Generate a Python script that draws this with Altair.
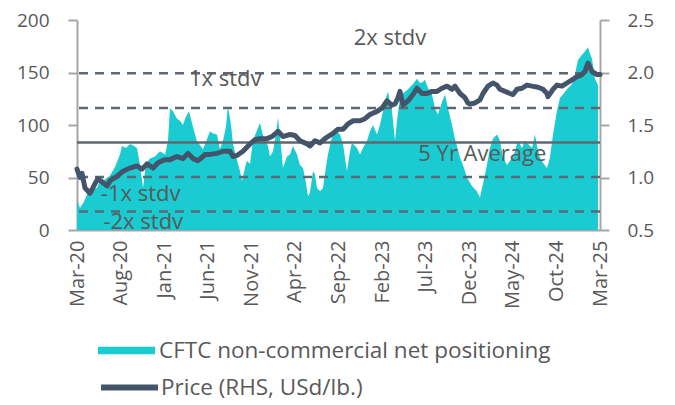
import json
import altair as alt
import pandas as pd

FONT = "Open Sans"
TXT = "#595959"
AXC = "#A6A6A6"

# x-axis tick labels (every 5 months, Mar-20 .. Mar-25)
x_labels = ["Mar-20", "Aug-20", "Jan-21", "Jun-21", "Nov-21", "Apr-22", "Sep-22",
            "Feb-23", "Jul-23", "Dec-23", "May-24", "Oct-24", "Mar-25"]
tick_months = [0, 5, 10, 15, 20, 25, 30, 35, 40, 45, 50, 55, 60]

# CFTC non-commercial net positioning (months since Mar-20, value)
cftc_month = [0.00, 0.34, 0.80, 1.15, 1.72, 2.29, 2.64, 3.21, 3.79, 4.36, 4.93, 5.16, 5.62,
              6.08, 6.54, 6.88, 7.23, 7.57, 7.92, 8.37, 8.95, 9.52, 10.10, 10.44, 10.67,
              11.01, 11.47, 11.82, 12.16, 12.50, 12.85, 13.31, 13.77, 14.11, 14.45, 14.80,
              15.26, 15.60, 16.06, 16.40, 16.75, 17.09, 17.32, 17.67, 17.90, 18.24, 18.70,
              18.93, 19.27, 19.50, 19.85, 20.19, 20.65, 20.99, 21.34, 21.57, 21.91, 22.14,
              22.49, 22.83, 23.06, 23.40, 23.63, 24.09, 24.43, 24.78, 25.24, 25.58, 25.93,
              26.27, 26.50, 26.73, 27.07, 27.30, 27.53, 27.88, 28.22, 28.56, 28.79, 29.14,
              29.37, 29.83, 30.17, 30.52, 30.97, 31.32, 31.55, 31.89, 32.12, 32.47, 32.81,
              33.27, 33.61, 33.96, 34.42, 34.76, 35.10, 35.45, 35.68, 35.91, 36.14, 36.48,
              36.71, 37.05, 37.40, 37.97, 38.55, 39.00, 39.35, 39.69, 39.92, 40.27, 40.73,
              41.07, 41.41, 41.87, 42.22, 42.56, 43.02, 43.36, 43.94, 44.28, 44.74, 45.31,
              45.88, 46.23, 46.58, 47.03, 47.38, 47.72, 48.18, 48.52, 48.87, 49.33, 49.67,
              50.02, 50.59, 51.05, 51.39, 51.74, 52.20, 52.54, 52.77, 53.11, 53.46, 53.92,
              54.26, 54.61, 55.06, 55.41, 55.75, 56.21, 56.79, 57.13, 57.47, 57.93, 58.28,
              58.62, 58.85, 59.08, 59.42, 59.77]
cftc_value = [28, 21, 27, 34, 38, 40, 47, 48, 52, 60, 72, 80, 78,
              82, 80, 78, 62, 40, 63, 68, 70, 75, 72, 85, 116,
              113, 106, 104, 100, 108, 113, 98, 84, 81, 77, 84,
              94, 92, 91, 77, 85, 98, 118, 100, 82, 70, 56,
              47, 59, 66, 63, 85, 95, 102, 90, 87, 80, 70,
              75, 92, 107, 80, 59, 70, 72, 80, 72, 62, 59,
              45, 32, 36, 56, 53, 40, 37, 40, 60, 72, 85,
              91, 94, 91, 82, 56, 75, 83, 80, 78, 72, 78,
              85, 94, 100, 91, 100, 113, 126, 132, 120, 113, 85,
              104, 126, 130, 134, 139, 144, 140, 141, 143, 135, 129,
              116, 110, 122, 129, 116, 100, 87, 69, 62, 50, 42,
              37, 31, 44, 62, 78, 87, 91, 85, 69, 62, 66,
              69, 85, 78, 85, 82, 78, 91, 80, 69, 64, 59,
              69, 91, 113, 126, 129, 134, 139, 148, 162, 167, 170,
              174, 168, 163, 144, 138]

# Price (RHS, USd/lb.)
price_month = [0.00, 0.34, 0.57, 0.92, 1.49, 2.06, 2.41, 2.98, 3.44, 3.79, 4.59, 5.28, 6.08,
               6.88, 7.46, 8.03, 8.72, 9.29, 10.10, 10.67, 11.47, 12.16, 12.73, 13.31, 13.88,
               14.45, 14.68, 15.26, 16.06, 16.75, 17.55, 17.90, 18.35, 19.04, 19.85, 20.42,
               20.99, 21.80, 22.37, 23.06, 23.63, 24.43, 25.01, 25.58, 26.39, 26.73, 27.30,
               27.88, 28.45, 28.79, 29.37, 29.94, 30.52, 31.09, 31.66, 32.47, 33.04, 33.61,
               34.42, 34.99, 35.56, 36.14, 36.48, 36.82, 37.05, 37.40, 37.97, 38.55, 39.00,
               39.58, 40.15, 40.73, 41.30, 41.87, 42.45, 43.02, 43.36, 43.94, 44.51, 44.85,
               45.08, 45.66, 46.23, 46.58, 47.15, 47.72, 48.18, 48.52, 49.10, 49.67, 50.02,
               50.48, 51.05, 51.62, 52.20, 52.89, 53.46, 53.92, 54.03, 54.61, 55.06, 55.64,
               56.21, 56.79, 57.36, 57.93, 58.28, 58.62, 59.08, 59.66, 60.00]
price_value = [1.08, 1.00, 1.04, 0.90, 0.85, 0.94, 0.99, 0.95, 0.92, 0.97, 1.01, 1.06, 1.09,
               1.11, 1.08, 1.13, 1.09, 1.14, 1.17, 1.17, 1.20, 1.18, 1.23, 1.18, 1.16,
               1.20, 1.22, 1.22, 1.23, 1.25, 1.25, 1.20, 1.21, 1.25, 1.32, 1.36,
               1.37, 1.37, 1.39, 1.44, 1.39, 1.41, 1.40, 1.35, 1.32, 1.30, 1.35,
               1.33, 1.37, 1.39, 1.42, 1.46, 1.46, 1.51, 1.54, 1.54, 1.56, 1.60,
               1.63, 1.66, 1.73, 1.69, 1.70, 1.76, 1.82, 1.69, 1.73, 1.79, 1.85,
               1.80, 1.80, 1.82, 1.82, 1.85, 1.87, 1.84, 1.87, 1.80, 1.76, 1.71,
               1.70, 1.71, 1.74, 1.80, 1.87, 1.90, 1.88, 1.84, 1.82, 1.80, 1.79,
               1.84, 1.85, 1.88, 1.87, 1.86, 1.84, 1.80, 1.77, 1.84, 1.88, 1.87,
               1.90, 1.93, 1.96, 1.98, 2.01, 2.09, 2.01, 1.98, 1.98]

# reference levels (LHS units)
stdv_levels = [149.3, 116.3, 50.5, 17.6]
average_level = [83.4]

# annotation texts and their anchor (months, LHS value)
annot_text = ["2x stdv", "1x stdv", "5 Yr Average", "-1x stdv", "-2x stdv"]
annot_month = [35.9, 17.0, 46.5, 7.3, 7.6]
annot_value = [182.5, 144.0, 72.0, 34.0, 7.2]

AREA_NAME = "CFTC non-commercial net positioning"
LINE_NAME = "Price (RHS, USd/lb.)"

cftc_df = pd.DataFrame({"month": cftc_month, "value": cftc_value, "series": AREA_NAME})
price_df = pd.DataFrame({"month": price_month, "price": price_value, "series": LINE_NAME})
stdv_df = pd.DataFrame({"level": stdv_levels})
avg_df = pd.DataFrame({"level": average_level})
annot_df = pd.DataFrame({"month": annot_month, "value": annot_value, "text": annot_text})

label_expr = json.dumps(x_labels) + "[round(datum.value / 5)]"

x_enc = alt.X(
    "month:Q",
    scale=alt.Scale(domain=[0, 60], nice=False, zero=False),
    axis=alt.Axis(values=tick_months, labelExpr=label_expr, labelAngle=-90,
                  labelAlign="right", labelBaseline="middle", ticks=False,
                  labelPadding=10, labelFontSize=20, labelColor=TXT, labelFont=FONT,
                  domainColor=AXC, domainWidth=2, grid=False, title=None),
)
left_scale = alt.Scale(domain=[0, 200], nice=False)
left_axis = alt.Axis(values=[0, 50, 100, 150, 200], grid=False, title=None,
                     tickSize=9, tickColor=AXC, tickWidth=2, domainColor=AXC, domainWidth=2,
                     labelPadding=19, labelFontSize=19, labelColor=TXT, labelFont=FONT)

area = alt.Chart(cftc_df).mark_area(color="#1ACBD1", opacity=1, interpolate="linear").encode(
    x=x_enc,
    y=alt.Y("value:Q", scale=left_scale, axis=left_axis),
    fill=alt.Fill("series:N", scale=alt.Scale(domain=[AREA_NAME], range=["#1ACBD1"]),
                  legend=alt.Legend(title=None, orient="none", legendX=21, legendY=302,
                                    symbolType="M-1,-0.13H1V0.13H-1Z", symbolSize=3249,
                                    symbolStrokeWidth=0, symbolOpacity=1, labelLimit=0,
                                    labelFontSize=22.5, labelColor=TXT, labelFont=FONT,
                                    labelOffset=4, padding=0)),
)

stdv_rules = alt.Chart(stdv_df).mark_rule(color="#5F6770", strokeWidth=2.5, strokeDash=[9, 7]).encode(
    y=alt.Y("level:Q", scale=left_scale, axis=left_axis)
)
avg_rule = alt.Chart(avg_df).mark_rule(color="#5F6770", strokeWidth=2.5).encode(
    y=alt.Y("level:Q", scale=left_scale, axis=left_axis)
)
annots = alt.Chart(annot_df).mark_text(font=FONT, fontSize=22, color=TXT).encode(
    x=x_enc,
    y=alt.Y("value:Q", scale=left_scale, axis=left_axis),
    text="text:N",
)

left_layer = alt.layer(area, stdv_rules, avg_rule, annots)

line = alt.Chart(price_df).mark_line(strokeWidth=5, strokeJoin="round", strokeCap="round").encode(
    x=x_enc,
    y=alt.Y("price:Q", scale=alt.Scale(domain=[0.5, 2.5], nice=False, zero=False),
            axis=alt.Axis(orient="right", values=[0.5, 1.0, 1.5, 2.0, 2.5], format=".1f",
                          grid=False, title=None, tickSize=9, tickColor=AXC, tickWidth=2,
                          domainColor=AXC, domainWidth=2, labelPadding=18, labelFontSize=19,
                          labelColor=TXT, labelFont=FONT)),
    stroke=alt.Stroke("series:N", scale=alt.Scale(domain=[LINE_NAME], range=["#44546A"]),
                      legend=alt.Legend(title=None, orient="none", legendX=21, legendY=336,
                                        symbolType="stroke", symbolSize=3249,
                                        symbolStrokeWidth=6, labelLimit=0,
                                        labelFontSize=22.5, labelColor=TXT, labelFont=FONT,
                                        labelOffset=0, padding=0)),
)

chart = alt.layer(left_layer, line).resolve_scale(
    y="independent", fill="independent", stroke="independent"
).properties(
    width=523, height=210,
    padding={"left": 69, "top": 12, "right": 67, "bottom": 175},
    autosize=alt.AutoSizeParams(type="none"),
).configure_view(stroke=None)

chart.save("out.html", embed_options={"renderer": "svg", "actions": False})
